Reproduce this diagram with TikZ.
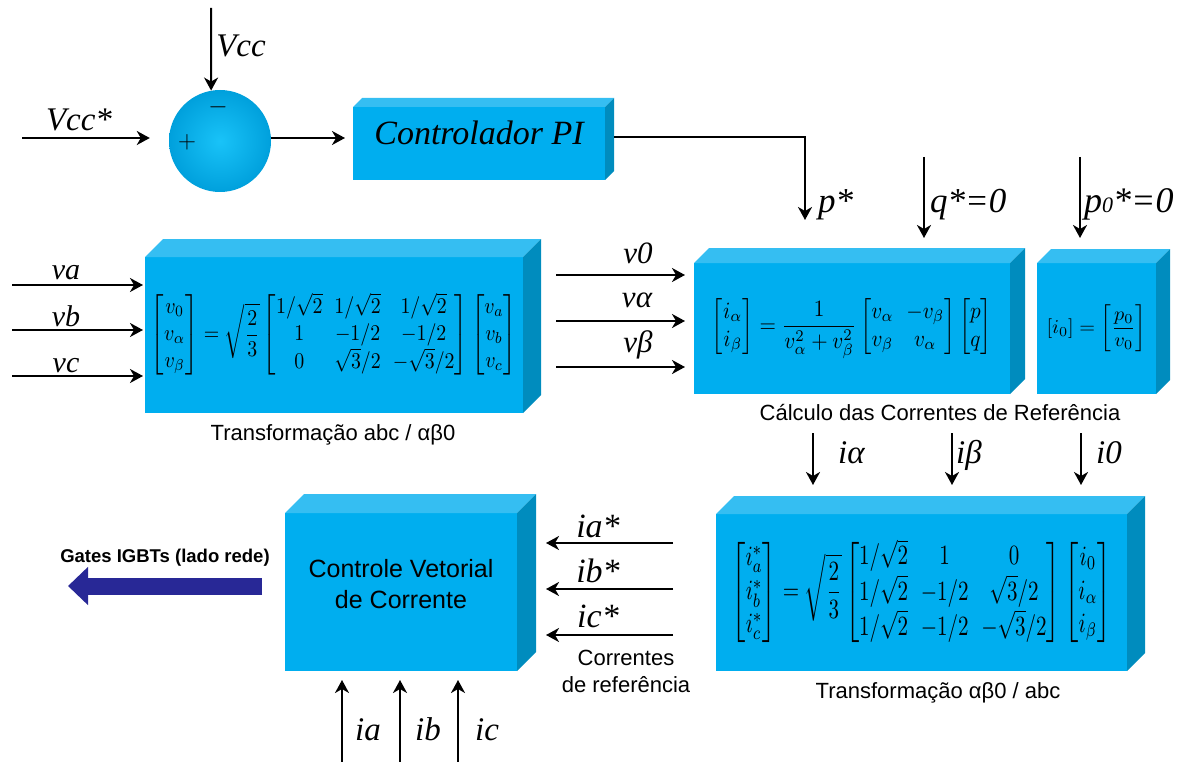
\documentclass[tikz,border=0pt]{standalone}
\usepackage[no-math]{fontspec}
\setmainfont{Liberation Serif}
\setsansfont{Liberation Sans}
\usepackage{amsmath}
\usepackage{graphicx}
\usetikzlibrary{arrows.meta,positioning}

\definecolor{boxfront}{RGB}{0,174,239}
\definecolor{boxtop}{RGB}{53,190,242}
\definecolor{boxside}{RGB}{0,140,190}
\definecolor{sumin}{RGB}{25,195,248}
\definecolor{sumout}{RGB}{0,160,220}
\definecolor{gatecol}{RGB}{40,40,150}

\newcommand{\fsz}[1]{\fontsize{#1}{#1}\selectfont}
\setlength{\arraycolsep}{3pt}

\begin{document}
\begin{tikzpicture}[x=1pt, y=-1pt,
    blk/.style={fill=boxfront, inner sep=0pt, outer sep=0pt},
    sumnode/.style={circle, minimum size=102pt, inner sep=0pt,
                    shading=radial, inner color=sumin, outer color=sumout},
    sign/.style={inner sep=0pt, font=\fsz{24}},
    arr/.style={-{Stealth[length=13pt, width=14pt, inset=4pt]}, line width=2pt},
    gatearr/.style={-{Triangle[length=20pt, width=37pt]}, line width=17pt, draw=gatecol},
    lbl/.style={inner sep=0pt, anchor=base},
    captxt/.style={font=\sffamily\fsz{22}, inner sep=0pt, anchor=base, align=center},
  ]
  \useasboundingbox (0,0) rectangle (1199,762);

  % Row 1 -- dc voltage loop
  \node[sumnode] (sum) at (220,141) {};
  \node[sign] (minus) at (218,107) {$-$};
  \node[sign] (plus) at (187,142) {$+$};
  \node[blk, minimum width=252pt, minimum height=73pt, text height=24pt, text depth=21pt,
        font=\fsz{34}\itshape] (pi) at (479,143.5) {Controlador PI};

  % Row 2
  \node[blk, minimum width=378pt, minimum height=156pt] (abc) at (334,335)
    {\resizebox*{366pt}{84pt}{$\displaystyle \begin{bmatrix} v_0\\ v_\alpha\\ v_\beta \end{bmatrix}
      = \sqrt{\frac{2}{3}}
      \begin{bmatrix} 1/\sqrt{2} & 1/\sqrt{2} & 1/\sqrt{2}\\ 1 & -1/2 & -1/2\\
        0 & \sqrt{3}/2 & -\sqrt{3}/2 \end{bmatrix}
      \begin{bmatrix} v_a\\ v_b\\ v_c \end{bmatrix}$}};
  \node[blk, minimum width=316pt, minimum height=131pt] (calc) at (852,328.5)
    {\resizebox*{280pt}{60pt}{$\displaystyle \begin{bmatrix} i_\alpha\\ i_\beta \end{bmatrix}
      = \frac{1}{v_\alpha^2+v_\beta^2}
      \begin{bmatrix} v_\alpha & -v_\beta\\ v_\beta & v_\alpha \end{bmatrix}
      \begin{bmatrix} p\\ q \end{bmatrix}$}};
  \node[blk, minimum width=119pt, minimum height=131pt] (zero) at (1096.5,328.5)
    {\resizebox*{100pt}{47pt}{$\displaystyle [i_0] = \left[\frac{p_0}{v_0}\right]$}};

  % Row 3
  \node[blk, minimum width=411pt, minimum height=157pt] (inv) at (921.5,592.5)
    {\resizebox*{380pt}{106pt}{$\displaystyle \begin{bmatrix} i_a^*\\ i_b^*\\ i_c^* \end{bmatrix}
      = \sqrt{\frac{2}{3}}
      \begin{bmatrix} 1/\sqrt{2} & 1 & 0\\ 1/\sqrt{2} & -1/2 & \sqrt{3}/2\\
        1/\sqrt{2} & -1/2 & -\sqrt{3}/2 \end{bmatrix}
      \begin{bmatrix} i_0\\ i_\alpha\\ i_\beta \end{bmatrix}$}};
  \node[blk, minimum width=232pt, minimum height=158pt] (cvc) at (401,592) {};
  \node[align=center, inner sep=0pt, font=\sffamily\fsz{25}] (cvctxt) at (401,584)
    {Controle Vetorial\\[6pt]de Corrente};

  % 3d faces
  \foreach \n/\d in {pi/9,abc/18,calc/15,zero/14,inv/18,cvc/19} {
    \fill[boxtop] (\n.north west) -- ++(\d,-\d) -- ([shift={(\d,-\d)}]\n.north east)
      -- (\n.north east) -- cycle;
    \fill[boxside] (\n.north east) -- ++(\d,-\d) -- ([shift={(\d,-\d)}]\n.south east)
      -- (\n.south east) -- cycle;
  }

  % dc loop arrows
  \coordinate (vcctop) at (211,8);
  \coordinate (vccin) at (22,138);
  \draw[arr] (vcctop) -- (sum.100);
  \draw[arr, shorten >=19pt] (vccin) -- (vccin -| sum.west);
  \draw[arr, shorten >=8pt] (sum.east |- vccin) -- (pi.west |- vccin);
  \draw[arr, shorten <=9pt, shorten >=43pt] ([yshift=6pt]pi.east) -| ([xshift=-47pt]calc.north);
  \coordinate (qtop) at (924,157);
  \coordinate (pztop) at (1080,157);
  \draw[arr, shorten >=25pt] (qtop) -- (qtop |- calc.north);
  \draw[arr, shorten >=25pt] (pztop) -- (pztop |- zero.north);

  \node[lbl, font=\fsz{33}\itshape] (vcclbl) at (241,57) {Vcc};
  \node[lbl, font=\fsz{33}\itshape] (vccslbl) at (79,131) {Vcc*};
  \node[lbl, anchor=base west, font=\fsz{35}\itshape] (plbl) at (818,213) {p*};
  \node[lbl, anchor=base west, font=\fsz{35}\itshape] (qlbl) at (930,213) {q*=0};
  \node[lbl, anchor=base west, font=\fsz{36}\itshape] (pzlbl) at (1084,213) {p{\fsz{22}0}*=0};

  % phase voltages
  \foreach \n/\y in {a/285,b/330,c/376} {
    \coordinate (v\n) at (12,\y);
    \draw[arr, shorten >=2pt] (v\n) -- (v\n -| abc.west);
  }
  \node[lbl, font=\fsz{30}\itshape] (valbl) at (66,279) {va};
  \node[lbl, font=\fsz{30}\itshape] (vblbl) at (66,326) {vb};
  \node[lbl, font=\fsz{30}\itshape] (vclbl) at (66,372) {vc};

  % alpha-beta-0 voltages
  \foreach \n/\y in {z/275,al/321,be/367} {
    \coordinate (w\n) at (556,\y);
    \draw[arr, shorten >=9pt] (w\n) -- (w\n -| calc.west);
  }
  \node[lbl, font=\fsz{31}\itshape] (v0lbl) at (638,263) {v0};
  \node[lbl, font=\fsz{31}\itshape] (valbl2) at (637,307) {vα};
  \node[lbl, font=\fsz{31}\itshape] (vblbl2) at (638,352) {vβ};

  \node[captxt] (abccap) at (333,440) {Transformação abc / αβ0};
  \node[captxt] (calccap) at (940,420) {Cálculo das Correntes de Referência};

  % reference currents alpha-beta-0
  \foreach \n/\x in {al/813,be/952,z/1081} {
    \coordinate (i\n) at (\x,433);
    \draw[arr, shorten >=29pt] (i\n) -- (i\n |- inv.north);
  }
  \node[lbl, anchor=base west, font=\fsz{33}\itshape] (ialbl) at (838,463) {iα};
  \node[lbl, anchor=base west, font=\fsz{33}\itshape] (iblbl) at (956,463) {iβ};
  \node[lbl, anchor=base west, font=\fsz{33}\itshape] (izlbl) at (1096,463) {i0};
  \node[captxt] (invcap) at (938,698) {Transformação αβ0 / abc};

  % reference currents abc
  \foreach \n/\y in {a/543,b/589,c/635} {
    \coordinate (is\n) at (673,\y);
    \draw[arr, shorten >=29pt] (is\n) -- (is\n -| cvc.east);
  }
  \node[lbl, font=\fsz{34}\itshape] (ialbl2) at (598,537) {ia*};
  \node[lbl, font=\fsz{34}\itshape] (iblbl2) at (598,582) {ib*};
  \node[lbl, font=\fsz{34}\itshape] (iclbl2) at (598,627) {ic*};
  \node[captxt, font=\sffamily\fontsize{22}{27}\selectfont] (refcap) at (626,692)
    {Correntes\\de referência};

  % measured currents
  \foreach \n/\x in {a/342,b/400,c/458} {
    \coordinate (im\n) at (\x,762);
    \draw[arr, shorten >=9pt] (im\n) -- (im\n |- cvc.south);
  }
  \node[lbl, anchor=base west, font=\fsz{33}\itshape] (imalbl) at (355,740) {ia};
  \node[lbl, anchor=base west, font=\fsz{33}\itshape] (imblbl) at (415,740) {ib};
  \node[lbl, anchor=base west, font=\fsz{33}\itshape] (imclbl) at (475,740) {ic};

  % gate signals
  \coordinate (gate) at (68,586);
  \draw[gatearr, shorten <=23pt] (cvc.west |- gate) -- (gate);
  \node[lbl, font=\sffamily\bfseries\fsz{18.5}] (gatelbl) at (165,562) {Gates IGBTs (lado rede)};
\end{tikzpicture}
\end{document}
